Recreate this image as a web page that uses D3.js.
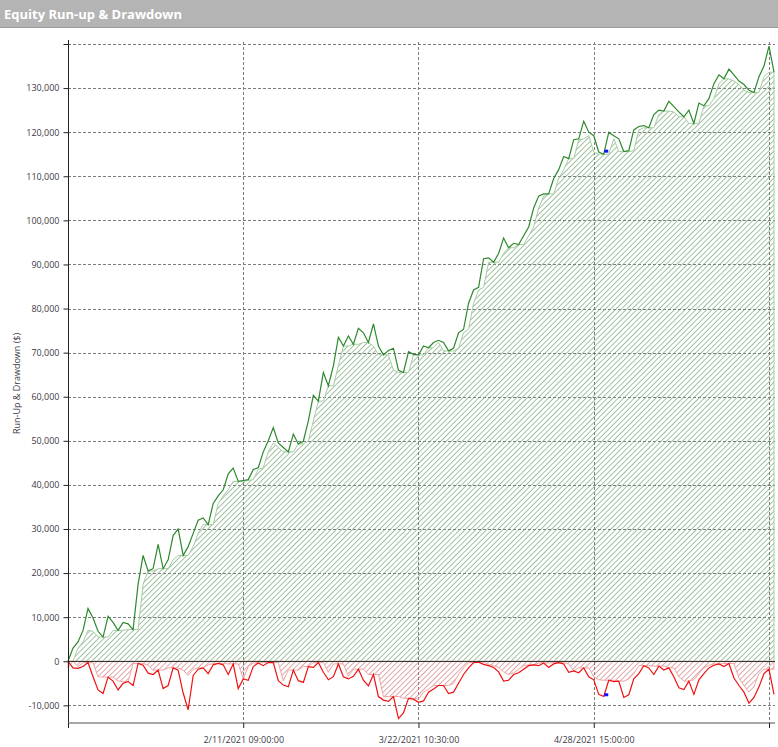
<!DOCTYPE html>
<html>
<head>
<meta charset="utf-8">
<script src="https://cdn.jsdelivr.net/npm/d3@7"></script>
<style>
body { margin: 0; background: #fff; }
#chart svg { display: block; }
</style>
</head>
<body>
<div id="chart"></div>
<script>
// equity run-up, one value every bar group ($)
var equity = [
    0, 3000, 4400, 7000, 12000, 9800, 6800, 5500, 10200, 8800,
    7000, 8800, 8500, 7200, 17500, 24000, 20500, 21000, 26500, 21000,
    23000, 28500, 30000, 24000, 26000, 29000, 32000, 32500, 31000, 35800,
    37500, 38900, 42500, 43800, 40800, 41000, 41200, 43500, 43900, 47500,
    50000, 53000, 49500, 48500, 47500, 51500, 49300, 49900, 54500, 60300,
    59000, 65500, 62500, 67000, 73500, 71500, 73800, 71900, 75500, 74500,
    72300, 76500, 71500, 69500, 70500, 71000, 66000, 65500, 70200, 69600,
    69500, 71500, 71100, 72300, 72800, 72300, 70400, 71000, 74500, 75300,
    81200, 84200, 84800, 91300, 91500, 90500, 92500, 96000, 93800, 94800,
    94500, 96500, 98500, 102800, 105500, 106000, 106000, 109500, 111500, 114500,
    114000, 118300, 118500, 122500, 120000, 119200, 115500, 115000, 120000, 119200,
    118500, 115600, 115800, 120500, 121300, 121500, 121000, 124000, 125000, 124800,
    127000, 125800, 124600, 123500, 125000, 122000, 126600, 126000, 127600, 131000,
    133000, 132100, 134300, 133000, 131600, 130800, 129500, 129000, 132600, 135000,
    139500, 133600
];

// drawdown, same bars ($)
var drawdown = [
    0, -1500, -1600, -1200, -300, -3500, -6500, -7300, -3600, -4500,
    -6500, -5000, -4600, -5500, -500, -900, -2700, -3000, -2000, -6200,
    -5500, -1500, -2000, -7200, -11000, -3200, -1800, -1500, -2800, -800,
    -500, -800, -3000, -600, -6200, -4000, -4300, -1200, -400, -1000,
    -300, -300, -4400, -5400, -5800, -2000, -4400, -4800, -1200, -1400,
    -300, -2500, -4200, -3500, -600, -3500, -4000, -3400, -1800, -4300,
    -5600, -3000, -8000, -8800, -9100, -8000, -13000, -11700, -8400, -8600,
    -9300, -9000, -7000, -6300, -5500, -5500, -7300, -7000, -5000, -3000,
    -1500, -300, -200, -700, -1000, -1400, -2400, -4500, -4300, -3000,
    -2600, -1800, -1000, -800, -1000, -400, -1400, -600, -300, -600,
    -2500, -2200, -2600, -1500, -3500, -4200, -7500, -8000, -4300, -4600,
    -4500, -8200, -7600, -4000, -2800, -1000, -1500, -3000, -1100, -2000,
    -1500, -3500, -6000, -6400, -4500, -7500, -4200, -2800, -1500, -900,
    -600, -1200, -500, -3800, -5500, -7000, -9500, -8200, -5800, -2800,
    -1800, -7500
];

// max drawdown markers
var markerIdx = [107.5, 107.5];
var markerValue = [115700, -7600];

var yTicks = [-10000, 0, 10000, 20000, 30000, 40000, 50000, 60000, 70000,
    80000, 90000, 100000, 110000, 120000, 130000, 140000];
var xTickIdx = [0, 35, 70, 105, 140];
var xTickLabels = ["", "2/11/2021 09:00:00", "3/22/2021 10:30:00", "4/28/2021 15:00:00", ""];

var W = 778, H = 747;
var margin = { top: 44, right: 4, bottom: 24, left: 68 };
var plotRight = W - 3;

var svg = d3.select("#chart").append("svg")
    .attr("width", W)
    .attr("height", H);

// title bar
svg.append("rect")
    .attr("x", 0).attr("y", 0)
    .attr("width", W).attr("height", 27)
    .attr("fill", "#b4b4b4");
svg.append("line")
    .attr("x1", 0).attr("x2", W)
    .attr("y1", 27.5).attr("y2", 27.5)
    .attr("stroke", "#9c9c9c");
svg.append("text")
    .attr("x", 4).attr("y", 19)
    .attr("fill", "#fff")
    .attr("font-family", "Open Sans")
    .attr("font-weight", "bold")
    .attr("font-size", "13px")
    .text("Equity Run-up & Drawdown");

var x = d3.scaleLinear()
    .domain([0, equity.length - 1])
    .range([margin.left, W - margin.right]);

var y = d3.scaleLinear()
    .domain([-14000, 140000])
    .range([H - margin.bottom, margin.top]);

// hatch patterns
var defs = svg.append("defs");
function hatch(id, color) {
    var p = defs.append("pattern")
        .attr("id", id)
        .attr("patternUnits", "userSpaceOnUse")
        .attr("width", 3.8)
        .attr("height", 3.8)
        .attr("patternTransform", "rotate(45)");
    p.append("line")
        .attr("x1", 0).attr("y1", -1)
        .attr("x2", 0).attr("y2", 4.8)
        .attr("stroke", color)
        .attr("stroke-width", 1.3);
}
hatch("hatchGreen", "#6f9f6f");
hatch("hatchRed", "#d07a7a");

// horizontal grid
svg.append("g")
    .selectAll("line")
    .data(yTicks.filter(function (d) { return d !== 0; }))
    .enter()
    .append("line")
    .attr("x1", margin.left).attr("x2", plotRight)
    .attr("y1", function (d) { return Math.round(y(d)) + 0.5; })
    .attr("y2", function (d) { return Math.round(y(d)) + 0.5; })
    .attr("stroke", "#7c7c7c")
    .attr("stroke-dasharray", "3,2");

// vertical grid
svg.append("g")
    .selectAll("line")
    .data(xTickIdx.slice(1))
    .enter()
    .append("line")
    .attr("x1", function (d) { return Math.round(x(d)) + 0.5; })
    .attr("x2", function (d) { return Math.round(x(d)) + 0.5; })
    .attr("y1", margin.top - 2).attr("y2", H - margin.bottom)
    .attr("stroke", "#7c7c7c")
    .attr("stroke-dasharray", "3,2");

// fill envelopes: the value closest to zero among neighbours
function envelope(arr) {
    return arr.map(function (d, i) {
        var w = arr.slice(Math.max(0, i - 1), i + 2);
        return d >= 0 ? d3.min(w) : d3.max(w);
    });
}
var equityFill = envelope(equity);
var drawdownFill = envelope(drawdown);

var area = d3.area()
    .x(function (d, i) { return x(i); })
    .y0(y(0))
    .y1(function (d) { return y(d); });

svg.append("path")
    .datum(equityFill)
    .attr("d", area)
    .attr("fill", "url(#hatchGreen)")
    .attr("stroke", "#a6cca6")
    .attr("stroke-width", 1);

svg.append("path")
    .datum(drawdownFill)
    .attr("d", area)
    .attr("fill", "url(#hatchRed)")
    .attr("stroke", "#f0a4a4")
    .attr("stroke-width", 1);

var line = d3.line()
    .x(function (d, i) { return x(i); })
    .y(function (d) { return y(d); });

svg.append("path")
    .datum(equity)
    .attr("d", line)
    .attr("fill", "none")
    .attr("stroke", "#2c892c")
    .attr("stroke-width", 1.2);

svg.append("path")
    .datum(drawdown)
    .attr("d", line)
    .attr("fill", "none")
    .attr("stroke", "#f01010")
    .attr("stroke-width", 1.2);

// zero line
svg.append("line")
    .attr("x1", margin.left).attr("x2", plotRight)
    .attr("y1", Math.round(y(0)) + 0.5).attr("y2", Math.round(y(0)) + 0.5)
    .attr("stroke", "#333")
    .attr("stroke-width", 1);

// markers
svg.append("g")
    .selectAll("rect")
    .data(markerIdx)
    .enter()
    .append("rect")
    .attr("x", function (d) { return x(d) - 2; })
    .attr("y", function (d, i) { return y(markerValue[i]) - 1.5; })
    .attr("width", 4)
    .attr("height", 3)
    .attr("fill", "#1010ff");

// y axis
var yAxis = d3.axisLeft(y)
    .tickValues(yTicks)
    .tickSize(5)
    .tickPadding(4)
    .tickFormat(function (d) { return d === d3.max(yTicks) ? "" : d3.format(",")(d).replace("−", "-"); });

var gy = svg.append("g")
    .attr("transform", "translate(" + (margin.left + 0.5) + ",0)")
    .call(yAxis);
gy.select(".domain")
    .attr("d", "M0," + (margin.top - 4) + "V" + (H - margin.bottom))
    .attr("stroke", "#222");
gy.selectAll(".tick line").attr("stroke", "#222");
gy.selectAll(".tick text")
    .attr("fill", "#3d3a45")
    .attr("font-family", "Open Sans")
    .attr("font-size", "9px");

// x axis
var xAxis = d3.axisBottom(x)
    .tickValues(xTickIdx)
    .tickSize(5)
    .tickPadding(9)
    .tickFormat(function (d, i) { return xTickLabels[i]; });

var gx = svg.append("g")
    .attr("transform", "translate(0," + (H - margin.bottom) + ")")
    .call(xAxis);
gx.select(".domain")
    .attr("d", "M" + margin.left + ",0H" + plotRight)
    .attr("stroke", "#8a8a8a")
    .attr("stroke-width", 1.5);
gx.selectAll(".tick line").attr("stroke", "#222");
gx.selectAll(".tick text")
    .attr("fill", "#3d3a45")
    .attr("font-family", "Open Sans")
    .attr("font-size", "9px");

// y axis title
svg.append("text")
    .attr("transform", "translate(20," + ((margin.top + H - margin.bottom) / 2) + ") rotate(-90)")
    .attr("text-anchor", "middle")
    .attr("fill", "#3d3a45")
    .attr("font-family", "Open Sans")
    .attr("font-size", "9px")
    .text("Run-Up & Drawdown ($)");
</script>
</body>
</html>
